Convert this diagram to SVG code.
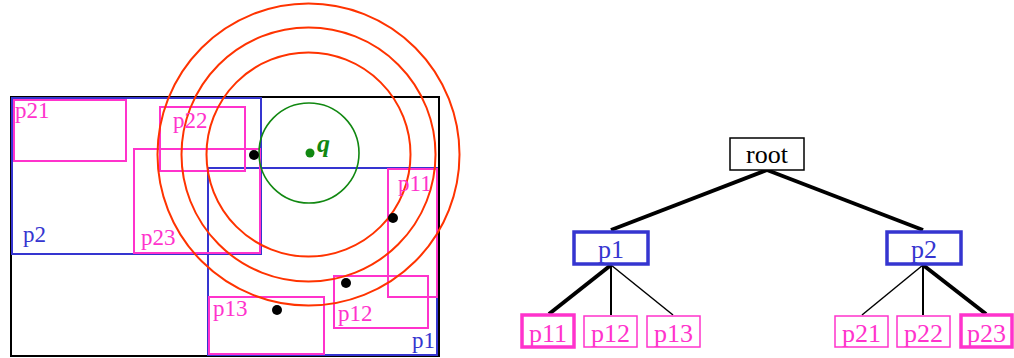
<svg xmlns="http://www.w3.org/2000/svg" width="1014" height="358" viewBox="0 0 1014 358">
<style>
text{font-family:"Liberation Serif","Times New Roman",serif;}
.blk{fill:none;stroke:#000;stroke-width:2}
.blu{fill:none;stroke:#3535d0;stroke-width:2}
.mag{fill:none;stroke:#ff33cc;stroke-width:2}
.red{fill:none;stroke:#ff3300;stroke-width:2}
.grn{fill:none;stroke:#118811;stroke-width:1.6}
.dot{fill:#000}
.lm{fill:#ff33cc;font-size:23px}
.lb{fill:#3535d0;font-size:23px}
.tn{font-size:26px;text-anchor:middle}
.tbox{fill:#fff}
.e{stroke:#000;fill:none;stroke-linecap:butt}
</style>
<rect width="1014" height="358" fill="#fff"/>
<g id="space">
  <rect class="blk" x="11" y="97" width="428" height="259"/>
  <rect class="blu" x="12" y="98" width="249" height="156"/>
  <rect class="blu" x="208" y="168" width="229" height="187"/>
  <rect class="mag" x="14" y="100" width="112" height="61"/>
  <rect class="mag" x="160" y="107" width="85" height="64"/>
  <rect class="mag" x="134" y="149" width="126" height="104"/>
  <rect class="mag" x="388" y="169" width="49" height="128"/>
  <rect class="mag" x="334" y="276" width="94" height="52"/>
  <rect class="mag" x="209" y="297" width="115" height="57"/>
  <circle class="red" cx="308.5" cy="154.5" r="102"/>
  <circle class="red" cx="308.5" cy="154.5" r="127"/>
  <circle class="red" cx="308.5" cy="154.5" r="151"/>
  <circle class="grn" cx="309" cy="153" r="50"/>
  <circle cx="310" cy="153" r="4.5" fill="#118811"/>
  <text x="317" y="152" fill="#118811" font-size="26" font-weight="bold" font-style="italic">q</text>
  <circle class="dot" cx="254" cy="155" r="5"/>
  <circle class="dot" cx="393" cy="218" r="5"/>
  <circle class="dot" cx="346" cy="283" r="5"/>
  <circle class="dot" cx="277" cy="310" r="5"/>
  <text class="lm" x="15" y="118">p21</text>
  <text class="lm" x="173" y="128">p22</text>
  <text class="lm" x="141" y="245">p23</text>
  <text class="lb" x="23" y="242">p2</text>
  <text class="lm" x="398" y="191">p11</text>
  <text class="lm" x="338" y="321">p12</text>
  <text class="lm" x="213" y="316">p13</text>
  <text class="lb" x="412" y="348">p1</text>
</g>
<g id="connectors">
  <line class="e" x1="767" y1="170" x2="611" y2="230" stroke-width="4"/>
  <line class="e" x1="767" y1="170" x2="923" y2="230" stroke-width="4"/>
  <line class="e" x1="611" y1="265" x2="549" y2="314" stroke-width="4"/>
  <line class="e" x1="611" y1="265" x2="611" y2="315" stroke-width="2"/>
  <line class="e" x1="611" y1="265" x2="673" y2="315" stroke-width="1.5"/>
  <line class="e" x1="923" y1="265" x2="862" y2="315" stroke-width="1.5"/>
  <line class="e" x1="923" y1="265" x2="923" y2="315" stroke-width="2"/>
  <line class="e" x1="923" y1="265" x2="986" y2="314" stroke-width="4"/>
</g>
<g id="root">
  <rect class="tbox" x="730" y="138" width="74" height="32" stroke="#000" stroke-width="1.5"/>
  <text class="tn" x="767" y="163" fill="#000">root</text>
</g>
<g id="p1">
  <rect class="tbox" x="574" y="232" width="74" height="32" stroke="#3535d0" stroke-width="3.5"/>
  <text class="tn" x="611" y="258" fill="#3535d0">p1</text>
</g>
<g id="p2">
  <rect class="tbox" x="887" y="232" width="74" height="32" stroke="#3535d0" stroke-width="3.5"/>
  <text class="tn" x="924" y="258" fill="#3535d0">p2</text>
</g>
<g id="p11">
  <rect class="tbox" x="522" y="315" width="52" height="32" stroke="#ff33cc" stroke-width="3.5"/>
  <text class="tn" x="548" y="342" fill="#ff33cc">p11</text>
</g>
<g id="p12">
  <rect class="tbox" x="584" y="316" width="53" height="31" stroke="#ff33cc" stroke-width="1.5"/>
  <text class="tn" x="610.5" y="342" fill="#ff33cc">p12</text>
</g>
<g id="p13">
  <rect class="tbox" x="647" y="316" width="53" height="31" stroke="#ff33cc" stroke-width="1.5"/>
  <text class="tn" x="673.5" y="342" fill="#ff33cc">p13</text>
</g>
<g id="p21">
  <rect class="tbox" x="835" y="316" width="53" height="31" stroke="#ff33cc" stroke-width="1.5"/>
  <text class="tn" x="861.5" y="342" fill="#ff33cc">p21</text>
</g>
<g id="p22">
  <rect class="tbox" x="897" y="316" width="53" height="31" stroke="#ff33cc" stroke-width="1.5"/>
  <text class="tn" x="923.5" y="342" fill="#ff33cc">p22</text>
</g>
<g id="p23">
  <rect class="tbox" x="961" y="315" width="51" height="32" stroke="#ff33cc" stroke-width="3.5"/>
  <text class="tn" x="986.5" y="342" fill="#ff33cc">p23</text>
</g>
</svg>
